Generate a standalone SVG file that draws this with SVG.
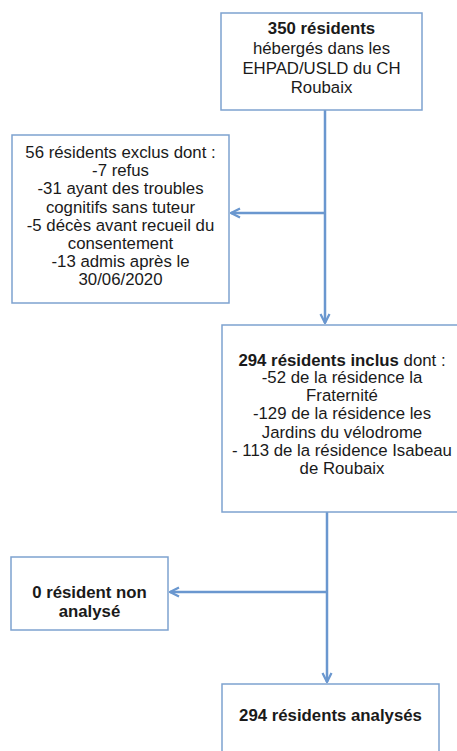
<svg xmlns="http://www.w3.org/2000/svg" width="457" height="751" viewBox="0 0 457 751">
<style>
.box{fill:#ffffff;stroke:#7ea2cf;stroke-width:1.5}
.t{font-family:"Liberation Sans",Arial,sans-serif;font-size:16.8px;fill:#1a1a1a;text-anchor:middle}
.b{font-weight:bold}
.c{fill:none;stroke:#6a97cf;stroke-width:2.5}
</style>
<defs>
<marker id="ah" viewBox="0 0 10 10" refX="9" refY="5" markerWidth="4.5" markerHeight="4.5" orient="auto" markerUnits="strokeWidth">
<path d="M1,1 L9,5 L1,9" fill="none" stroke="#6a97cf" stroke-width="2"/>
</marker>
</defs>
<rect width="457" height="751" fill="#ffffff"/>
<g id="connectors">
<line class="c" x1="325" y1="110" x2="325" y2="323" marker-end="url(#ah)"/>
<line class="c" x1="325" y1="213" x2="231" y2="213" marker-end="url(#ah)"/>
<line class="c" x1="327" y1="512" x2="327" y2="682" marker-end="url(#ah)"/>
<line class="c" x1="327" y1="592" x2="170" y2="592" marker-end="url(#ah)"/>
</g>
<g id="n1">
<rect class="box" x="221" y="13" width="201" height="97"/>
<text class="t b" x="321.5" y="34">350 résidents</text>
<text class="t" x="321.5" y="54">hébergés dans les</text>
<text class="t" x="321.5" y="74">EHPAD/USLD du CH</text>
<text class="t" x="321.5" y="93">Roubaix</text>
</g>
<g id="n2">
<rect class="box" x="12" y="135" width="217" height="168"/>
<text class="t" x="120.5" y="158">56 résidents exclus dont :</text>
<text class="t" x="120.5" y="176">-7 refus</text>
<text class="t" x="120.5" y="194">-31 ayant des troubles</text>
<text class="t" x="120.5" y="213">cognitifs sans tuteur</text>
<text class="t" x="120.5" y="231">-5 décès avant recueil du</text>
<text class="t" x="120.5" y="249">consentement</text>
<text class="t" x="120.5" y="267">-13 admis après le</text>
<text class="t" x="120.5" y="285">30/06/2020</text>
</g>
<g id="n3">
<rect class="box" x="222" y="325" width="242" height="187"/>
<text class="t" x="342" y="366"><tspan class="b">294 résidents inclus</tspan> dont :</text>
<text class="t" x="342" y="383">-52 de la résidence la</text>
<text class="t" x="342" y="401">Fraternité</text>
<text class="t" x="342" y="419">-129 de la résidence les</text>
<text class="t" x="342" y="438">Jardins du vélodrome</text>
<text class="t" x="342" y="456">- 113 de la résidence Isabeau</text>
<text class="t" x="342" y="474">de Roubaix</text>
</g>
<g id="n4">
<rect class="box" x="11" y="557" width="157" height="73"/>
<text class="t b" x="89.5" y="598">0 résident non</text>
<text class="t b" x="89.5" y="617">analysé</text>
</g>
<g id="n5">
<rect class="box" x="222" y="684" width="217" height="80"/>
<text class="t b" x="330.5" y="721">294 résidents analysés</text>
</g>
</svg>
